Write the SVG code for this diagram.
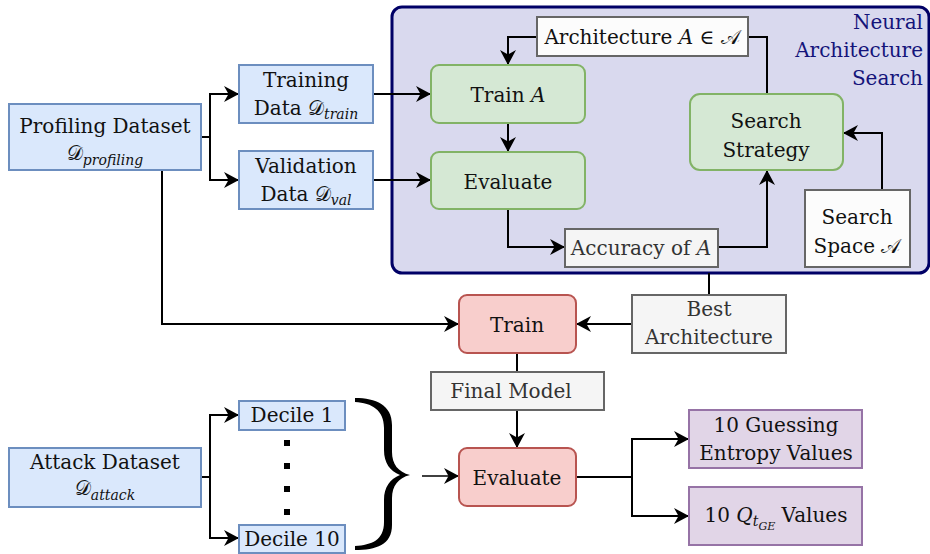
<svg xmlns="http://www.w3.org/2000/svg" width="930" height="554" viewBox="0 0 930 554" font-family="'DejaVu Serif', serif">
<style>
text{font-family:'DejaVu Serif',serif;font-size:20px;fill:#111;text-anchor:middle}
.it{font-style:italic}
.sub{font-size:14px;font-style:italic}
.gt{fill:#333}
.nas{fill:#14147a;text-anchor:end}
.blue{fill:#dae8fc;stroke:#6c8ebf;stroke-width:2}
.green{fill:#d5e8d4;stroke:#82b366;stroke-width:2}
.red{fill:#f8cecc;stroke:#b85450;stroke-width:2}
.purple{fill:#e1d5e7;stroke:#9673a6;stroke-width:2}
.gray{fill:#f5f5f5;stroke:#666;stroke-width:2}
.white{fill:#fcfcfc;stroke:#666;stroke-width:2}
.c{fill:none;stroke:#000;stroke-width:2}
.a{marker-end:url(#ah)}
</style>
<defs>
<marker id="ah" markerWidth="17" markerHeight="16" refX="15" refY="8" orient="auto" markerUnits="userSpaceOnUse">
<path d="M0,0 L15,8 L0,16 L4.5,8 z" fill="#000"/>
</marker>
</defs>

<g id="nas-panel">
<rect x="392" y="7" width="537" height="266" rx="10" fill="#d9d9ee" stroke="#000066" stroke-width="3"/>
<text class="nas" x="923" y="29">Neural</text>
<text class="nas" x="923" y="57">Architecture</text>
<text class="nas" x="923" y="85">Search</text>
</g>

<g id="connectors">
<path class="c a" d="M201,137 H210 V94 H239"/>
<path class="c a" d="M210,137 V180 H239"/>
<path class="c a" d="M373,94 H431"/>
<path class="c a" d="M373,180 H431"/>
<path class="c a" d="M508,123 V152"/>
<path class="c" d="M767,94 V37 H747"/>
<path class="c a" d="M537,37 H508 V65"/>
<path class="c a" d="M508,209 V247 H565"/>
<path class="c a" d="M718,247 H767 V170"/>
<path class="c a" d="M882,190 V133 H843"/>
<path class="c" d="M709,273 V295"/>
<path class="c a" d="M632,324 H576"/>
<path class="c a" d="M162,170 V324 H459"/>
<path class="c" d="M517,353 V372"/>
<path class="c a" d="M517,410 V448"/>
<path class="c a" style="stroke-width:1.6" d="M422,476 H459"/>
<path class="c a" d="M576,477 H632 V439 H689"/>
<path class="c a" d="M632,477 V516 H689"/>
<path class="c a" d="M201,477 H210 V415 H239"/>
<path class="c a" d="M210,477 V538 H239"/>
</g>

<g id="profiling">
<rect class="blue" x="9" y="104" width="192" height="66"/>
<text x="105" y="133">Profiling Dataset</text>
<text x="105" y="160">𝒟<tspan class="sub" dy="5">profiling</tspan></text>
</g>

<g id="training-data">
<rect class="blue" x="239" y="65" width="134" height="58"/>
<text x="306" y="87">Training</text>
<text x="306" y="115">Data 𝒟<tspan class="sub" dy="4">train</tspan></text>
</g>

<g id="validation-data">
<rect class="blue" x="239" y="151" width="134" height="58"/>
<text x="306" y="173">Validation</text>
<text x="306" y="201">Data 𝒟<tspan class="sub" dy="4">val</tspan></text>
</g>

<g id="train-a">
<rect class="green" x="431" y="65" width="154" height="58" rx="8"/>
<text x="508" y="102">Train  <tspan class="it">A</tspan></text>
</g>

<g id="evaluate-a">
<rect class="green" x="431" y="152" width="154" height="57" rx="8"/>
<text x="508" y="189">Evaluate</text>
</g>

<g id="architecture">
<rect class="white" x="537" y="17" width="211" height="39"/>
<text x="642" y="44">Architecture <tspan class="it">A</tspan> ∈ 𝒜</text>
</g>

<g id="search-strategy">
<rect class="green" x="690" y="94" width="153" height="76" rx="10"/>
<text x="766" y="128">Search</text>
<text x="766" y="157">Strategy</text>
</g>

<g id="accuracy">
<rect class="gray" x="565" y="229" width="153" height="38"/>
<text class="gt" x="641" y="255">Accuracy of <tspan class="it">A</tspan></text>
</g>

<g id="search-space">
<rect class="white" x="805" y="190" width="105" height="77"/>
<text x="857" y="224">Search</text>
<text x="857" y="253">Space 𝒜</text>
</g>

<g id="best-architecture">
<rect class="gray" x="632" y="295" width="154" height="58"/>
<text class="gt" x="709" y="316">Best</text>
<text class="gt" x="709" y="344">Architecture</text>
</g>

<g id="train">
<rect class="red" x="459" y="295" width="117" height="58" rx="8"/>
<text x="517" y="332">Train</text>
</g>

<g id="final-model">
<rect class="gray" x="431" y="372" width="173" height="38"/>
<text class="gt" x="511" y="398">Final Model</text>
</g>

<g id="evaluate">
<rect class="red" x="459" y="448" width="117" height="58" rx="8"/>
<text x="517" y="485">Evaluate</text>
</g>

<g id="guessing-entropy">
<rect class="purple" x="689" y="410" width="173" height="58"/>
<text x="776" y="432">10 Guessing</text>
<text x="776" y="460">Entropy Values</text>
</g>

<g id="qtge">
<rect class="purple" x="689" y="487" width="173" height="58"/>
<text x="776" y="522">10  <tspan class="it">Q</tspan><tspan class="sub" dy="4">t</tspan><tspan style="font-size:11px;font-style:italic" dy="4">GE</tspan><tspan dy="-8">  Values</tspan></text>
</g>

<g id="attack">
<rect class="blue" x="9" y="448" width="192" height="59"/>
<text x="105" y="469">Attack Dataset</text>
<text x="105" y="495">𝒟<tspan class="sub" dy="5">attack</tspan></text>
</g>

<g id="decile-1">
<rect class="blue" x="239" y="401" width="106" height="29"/>
<text x="292" y="422">Decile 1</text>
</g>

<g id="decile-10">
<rect class="blue" x="239" y="525" width="106" height="28"/>
<text x="292" y="546">Decile 10</text>
</g>

<g id="dots" fill="#000">
<rect x="284" y="440" width="6" height="6"/>
<rect x="284" y="463" width="6" height="6"/>
<rect x="284" y="486" width="6" height="6"/>
<rect x="284" y="509" width="6" height="6"/>
</g>

<g id="brace">
<path fill="#000" d="M355,398 C376,398 392,405 392,425 L392,452 C392,464 398,472 410,475 C398,478 392,486 392,498 L392,525 C392,545 376,550 355,550 L355,546 C372,545 384,540 384,522 L384,500 C384,487 390,479 400,475 C390,471 384,463 384,450 L384,428 C384,410 372,403 355,402 Z"/>
</g>
</svg>
